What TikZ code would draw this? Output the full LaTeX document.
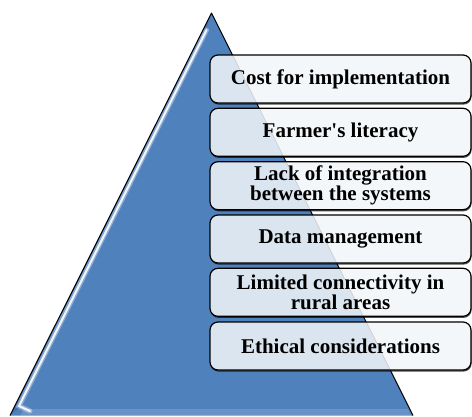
\documentclass[tikz,border=0pt]{standalone}
\usepackage{fontspec}
\setmainfont{Liberation Serif}
\definecolor{pyrblue}{RGB}{79,129,189}
\definecolor{pyrdark}{RGB}{58,100,160}
\definecolor{boxfill}{RGB}{243,246,249}
\tikzset{
  itembox/.style={draw=black, line width=1.2pt, rounded corners=8pt,
    fill=boxfill, fill opacity=0.86, text opacity=1,
    minimum width=261pt, minimum height=48pt, inner sep=0pt,
    align=center, font=\fontsize{21}{20}\selectfont\bfseries},
  pyredge/.style={draw=black, line width=1pt, line join=round},
  boxshadow/.style={fill=black, opacity=0.7, rounded corners=8pt},
}
% the pyramid with its bevel and outline
\newcommand{\drawpyramid}{%
  \path[fill=pyrblue] (bl) -- (apex) -- (br) -- cycle;
  \fill[pyrdark, opacity=0.45] (bl) -- (apex) -- (206,30) -- (19,408) -- cycle;
  \draw[white, opacity=0.35, line width=5pt, line cap=round] (206.5,30) -- (19,406) -- (30,411);
  \draw[white, opacity=0.9, line width=2pt, line cap=round] (206.5,30) -- (19,406) -- (30,411);
  \fill[white, opacity=0.15] (24,409) -- (408,409) -- (411,415.5) -- (20,415.5) -- cycle;
  \draw[pyredge] (bl) -- (apex) -- (br);}
% outline of one list box, centred at y = #1
\newcommand{\boxoutline}[1]{(210,#1-24) rectangle (471,#1+24)}
\begin{document}
\begin{tikzpicture}[x=1pt, y=-1pt]
  \useasboundingbox (0,0) rectangle (472,416);
  \coordinate (apex) at (211.5,13);
  \coordinate (bl) at (10,415.5);
  \coordinate (br) at (413,415.5);
  \drawpyramid
  % shadows under the list boxes
  \foreach \cy in {79,132.3,185.7,239,292.3,346}
    \fill[boxshadow] (210.6,\cy-22.4) rectangle (471.6,\cy+25.6);
  % restore what lies behind the translucent boxes
  \begin{scope}
    \clip[rounded corners=8pt] \boxoutline{79} \boxoutline{132.3} \boxoutline{185.7}
      \boxoutline{239} \boxoutline{292.3} \boxoutline{346};
    \fill[white] (0,0) rectangle (472,416);
    \drawpyramid
  \end{scope}
  % list of challenges
  \node[itembox] (b1) at (340.5,79)  {Cost for implementation};
  \node[itembox] (b2) at (340.5,132.3) {Farmer\textquotesingle s literacy};
  \node[itembox] (b3) at (340.5,185.7) {Lack of integration\\between the systems};
  \node[itembox] (b4) at (340.5,239)  {Data management};
  \node[itembox] (b5) at (340.5,292.3) {Limited connectivity in\\rural areas};
  \node[itembox] (b6) at (340.5,346) {Ethical considerations};
\end{tikzpicture}
\end{document}
